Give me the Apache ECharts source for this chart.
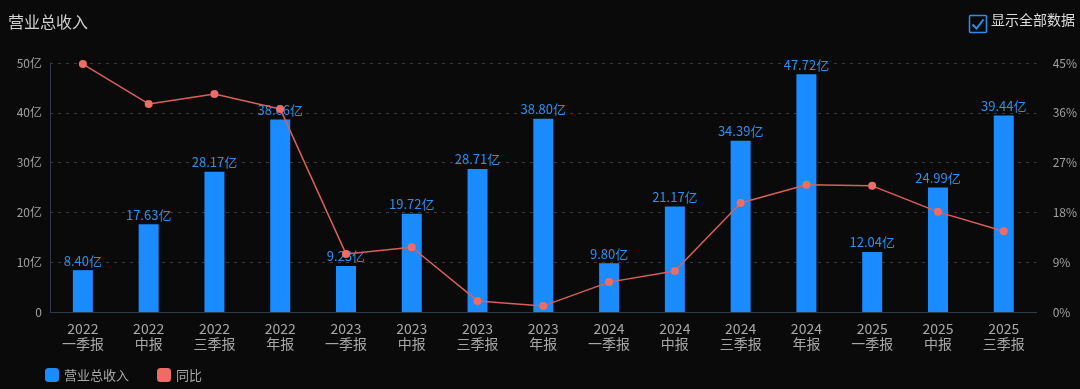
<!DOCTYPE html>
<html><head><meta charset="utf-8">
<script src="https://cdn.jsdelivr.net/npm/echarts@6/dist/echarts.min.js"></script>
<style>html,body{margin:0;padding:0;background:#0a0a0b;}#c{width:1080px;height:389px;}</style>
</head><body><div id="c"></div>
<script>
const years = ['2022','2022','2022','2022','2023','2023','2023','2023','2024','2024','2024','2024','2025','2025','2025'];
const periods = ['一季报','中报','三季报','年报','一季报','中报','三季报','年报','一季报','中报','三季报','年报','一季报','中报','三季报'];
const revenue = [8.40,17.63,28.17,38.66,9.23,19.72,28.71,38.80,9.80,21.17,34.39,47.72,12.04,24.99,39.44];
const yoy = [44.8,37.6,39.4,36.7,10.5,11.7,2.0,1.1,5.4,7.4,19.7,23.0,22.8,18.1,14.6];
const categories = years.map((y,i)=>y+'\n'+periods[i]);
const FONT = '"Noto Sans CJK SC","Noto Sans",sans-serif';
const chart = echarts.init(document.getElementById('c'));
chart.setOption({
  backgroundColor:'#0a0a0b',
  textStyle:{fontFamily:FONT},
  title:{text:'营业总收入',left:3,top:9,textStyle:{color:'#d0d0d0',fontSize:16,fontWeight:'normal',fontFamily:FONT}},
  legend:{left:40,bottom:2,itemWidth:14,itemHeight:14,itemGap:28,icon:'roundRect',
    textStyle:{color:'#a8a8a8',fontSize:13,fontFamily:FONT},
    data:[{name:'营业总收入'},{name:'同比'}]},
  grid:{left:50,right:42,top:63,bottom:77},
  xAxis:{type:'category',data:categories,
    axisLine:{lineStyle:{color:'#2e3b4a'}},axisTick:{show:false},
    axisLabel:{color:'#a8a8a8',fontSize:14,lineHeight:15,margin:9,interval:0,fontFamily:FONT}},
  yAxis:[
    {type:'value',min:0,max:50,interval:10,
      axisLine:{show:true,lineStyle:{color:'#2e3b4a'}},axisTick:{show:false},
      axisLabel:{color:'#a0a0a0',fontSize:12,formatter:v=>v===0?'0':v+'亿',fontFamily:FONT},
      splitLine:{lineStyle:{color:'#3a3a3a',type:[3,5]}}},
    {type:'value',min:0,max:45,interval:9,
      axisLine:{show:false},axisTick:{show:false},
      axisLabel:{color:'#a0a0a0',fontSize:12,formatter:v=>v+'%',margin:16,fontFamily:FONT},
      splitLine:{show:false}}
  ],
  series:[
    {name:'营业总收入',type:'bar',data:revenue,barWidth:20,
      itemStyle:{color:'#1a8cff'},
      label:{show:true,position:'top',distance:3,color:'#2f8fe8',fontSize:13,fontFamily:FONT,
        formatter:p=>p.value.toFixed(2)+'亿'}},
    {name:'同比',type:'line',yAxisIndex:1,data:yoy,symbol:'circle',symbolSize:8,
      lineStyle:{color:'#d9605a',width:1.5},itemStyle:{color:'#ee6b66'},z:5}
  ],
  graphic:[
    {type:'rect',left:967,top:13,shape:{width:17,height:17,r:1},style:{fill:'none',stroke:'#2f8fe8',lineWidth:1.5}},
    {type:'polyline',left:970,top:17,shape:{points:[[0,5],[4,9],[11,0]]},style:{fill:'none',stroke:'#2f8fe8',lineWidth:2}},
    {type:'text',left:991,top:13,style:{text:'显示全部数据',fill:'#dcdcdc',font:'14px '+FONT}}
  ]
});
</script></body></html>
